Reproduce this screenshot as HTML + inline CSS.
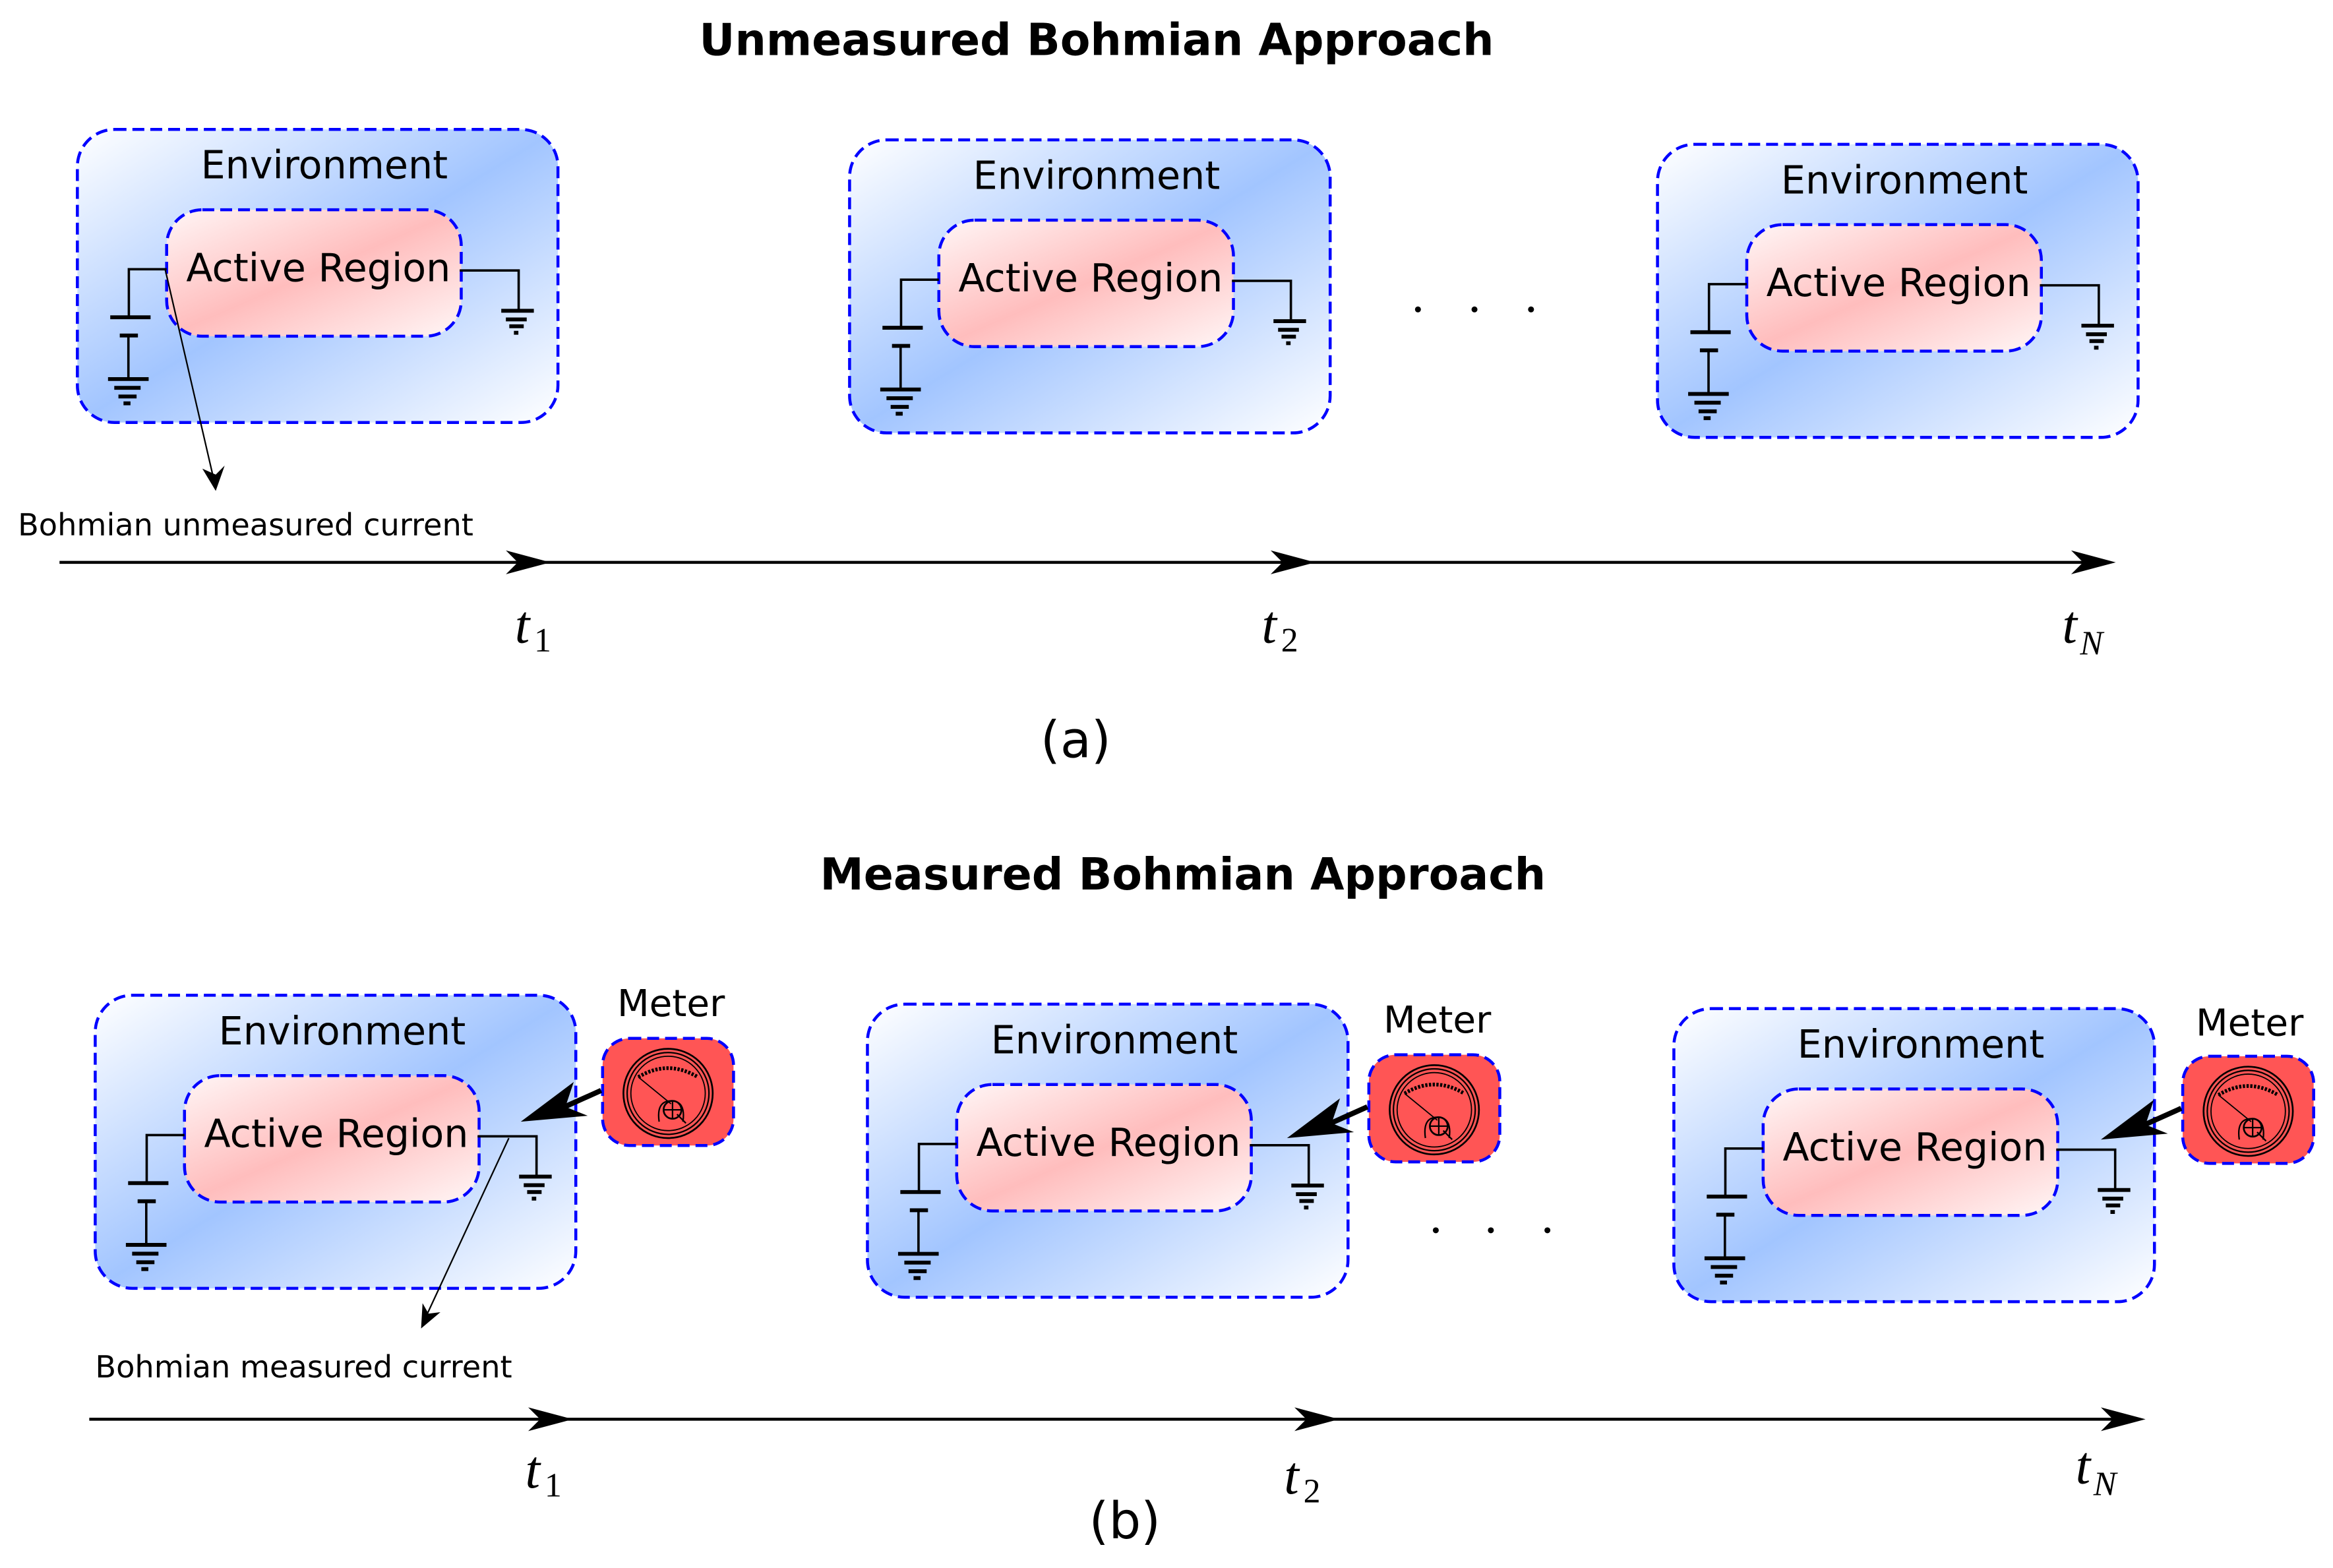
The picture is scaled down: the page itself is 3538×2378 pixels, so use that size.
<!DOCTYPE html>
<html><head><meta charset="utf-8"><style>
html,body{margin:0;padding:0;background:#fff;}
svg{display:block;}
text{font-family:"DejaVu Sans","Liberation Sans",sans-serif;}
.m{font-family:"Liberation Serif",serif;}
</style></head><body>
<svg width="3538" height="2378" viewBox="0 0 1568 1054" preserveAspectRatio="none" xmlns="http://www.w3.org/2000/svg">
<defs>
<linearGradient id="gb" x1="0" y1="0" x2="1" y2="1">
<stop offset="0" stop-color="#ffffff"/><stop offset="0.5" stop-color="#a2c5ff"/><stop offset="1" stop-color="#ffffff"/>
</linearGradient>
<linearGradient id="gr" x1="0" y1="0" x2="1" y2="1">
<stop offset="0" stop-color="#fff6f6"/><stop offset="0.5" stop-color="#ffbdbd"/><stop offset="1" stop-color="#fff6f6"/>
</linearGradient>
<g id="env">
<rect x="0" y="0" width="323" height="197" rx="25" fill="url(#gb)" stroke="#0000ff" stroke-width="2" stroke-dasharray="8,4"/>
<text x="166" y="33" font-size="26" text-anchor="middle">Environment</text>
<rect x="60" y="54" width="198" height="85" rx="24" fill="url(#gr)" stroke="#0000ff" stroke-width="2" stroke-dasharray="8,4"/>
<text x="162" y="102" font-size="26" text-anchor="middle">Active Region</text>
<path d="M60 94 H34.6 V126.3" fill="none" stroke="#000" stroke-width="1.6"/>
<path d="M22.1 126.3 H49.2 M28.5 138.5 H40.7" stroke="#000" stroke-width="2.6"/>
<path d="M34.3 138.5 V167.8" stroke="#000" stroke-width="1.6"/>
<path d="M20.6 167.8 H47.9 M24.8 173.7 H42.5 M27.6 179.5 H39.8 M31 184.1 H35.7" stroke="#000" stroke-width="2.6"/>
<path d="M257 94.8 H296.6 V120.7" fill="none" stroke="#000" stroke-width="1.6"/>
<path d="M284.9 121.9 H306.8 M288 127.7 H302 M290.3 132.3 H300 M293.4 136.7 H296.4" stroke="#000" stroke-width="2.6"/>
</g>
<path id="ah" d="M0 0 L-30 -8 L-22 0 L-30 8 Z" fill="#000"/>
<g id="meter">
<rect x="0" y="0" width="88" height="72" rx="18" fill="#ff5555" stroke="#0000ff" stroke-width="2" stroke-dasharray="8,4"/>
<circle cx="44" cy="37" r="30" fill="none" stroke="#000" stroke-width="1.2"/>
<circle cx="44" cy="37" r="27.5" fill="none" stroke="#000" stroke-width="1"/>
<circle cx="44" cy="37" r="25" fill="none" stroke="#000" stroke-width="0.8"/>
<path d="M24 26 Q44 14 64 26" fill="none" stroke="#000" stroke-width="2.5" stroke-dasharray="1.5,1"/>
<path d="M24 26 L46 44" stroke="#000" stroke-width="0.8"/>
<path d="M38 56 Q36 42 46 42 Q56 42 54 56" fill="none" stroke="#000" stroke-width="1"/>
<circle cx="47" cy="48" r="6" fill="none" stroke="#000" stroke-width="1.2"/>
<path d="M41 48 H53 M47 42 V54 M50 51 L56 57" stroke="#000" stroke-width="1"/>
</g>
<g id="marr">
<path d="M-1 35 L-30 48" stroke="#000" stroke-width="3.5"/>
<path d="M-55 56 L-19.4 29.3 L-25 46 L-10 52 Z" fill="#000"/>
</g>
</defs>

<!-- (a) -->
<text x="737" y="37" font-size="29.5" font-weight="bold" text-anchor="middle">Unmeasured Bohmian Approach</text>
<use href="#env" x="52" y="87"/>
<use href="#env" x="571" y="94"/>
<use href="#env" x="1114" y="97"/>
<circle cx="953" cy="208" r="2" fill="#000"/><circle cx="991" cy="208" r="2" fill="#000"/><circle cx="1029" cy="208" r="2" fill="#000"/>
<path d="M111 181 L145 328" stroke="#000" stroke-width="1"/>
<path d="M145 330 L136 315 L145 319 L151 313 Z" fill="#000"/>
<text x="12" y="360" font-size="20.5">Bohmian unmeasured current</text>
<path d="M40 378 H1405" stroke="#000" stroke-width="2"/>
<use href="#ah" x="370" y="378"/>
<use href="#ah" x="884" y="378"/>
<use href="#ah" x="1422" y="378"/>
<text class="m" x="346" y="432" font-size="36" font-style="italic">t</text><text class="m" x="359" y="438" font-size="23">1</text>
<text class="m" x="848" y="432" font-size="36" font-style="italic">t</text><text class="m" x="861" y="438" font-size="23">2</text>
<text class="m" x="1386" y="432" font-size="36" font-style="italic">t</text><text class="m" x="1398" y="440" font-size="23" font-style="italic">N</text>
<text x="723" y="509" font-size="34" text-anchor="middle">(a)</text>

<!-- (b) -->
<text x="795" y="598" font-size="29.5" font-weight="bold" text-anchor="middle">Measured Bohmian Approach</text>
<use href="#env" x="64" y="669"/>
<use href="#env" x="583" y="675"/>
<use href="#env" x="1125" y="678"/>
<text x="451" y="683" font-size="25" text-anchor="middle">Meter</text>
<text x="966" y="694" font-size="25" text-anchor="middle">Meter</text>
<text x="1512" y="696" font-size="25" text-anchor="middle">Meter</text>
<use href="#meter" x="405" y="698"/>
<use href="#meter" x="920" y="709"/>
<use href="#meter" x="1467" y="710"/>
<use href="#marr" x="405" y="698"/>
<use href="#marr" x="920" y="709"/>
<use href="#marr" x="1467" y="710"/>
<circle cx="965" cy="827" r="2" fill="#000"/><circle cx="1002" cy="827" r="2" fill="#000"/><circle cx="1040" cy="827" r="2" fill="#000"/>
<path d="M342 765 L284 890" stroke="#000" stroke-width="1"/>
<path d="M283 893 L284 876 L288 883 L296 882 Z" fill="#000"/>
<text x="64" y="926" font-size="20.5">Bohmian measured current</text>
<path d="M60 954 H1425" stroke="#000" stroke-width="2"/>
<use href="#ah" x="385" y="954"/>
<use href="#ah" x="900" y="954"/>
<use href="#ah" x="1442" y="954"/>
<text class="m" x="353" y="1000" font-size="36" font-style="italic">t</text><text class="m" x="366" y="1006" font-size="23">1</text>
<text class="m" x="863" y="1004" font-size="36" font-style="italic">t</text><text class="m" x="876" y="1010" font-size="23">2</text>
<text class="m" x="1395" y="997" font-size="36" font-style="italic">t</text><text class="m" x="1407" y="1005" font-size="23" font-style="italic">N</text>
<text x="756" y="1034" font-size="34" text-anchor="middle">(b)</text>
</svg>
</body></html>
